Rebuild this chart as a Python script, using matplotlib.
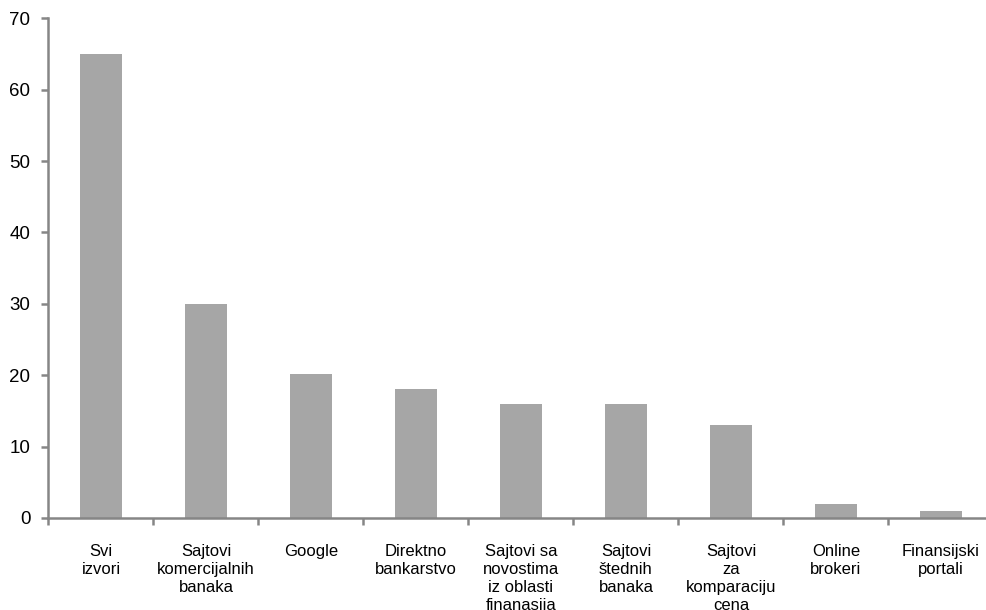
import numpy as np
import matplotlib.pyplot as plt

plt.rcParams['font.family'] = ['Liberation Sans', 'DejaVu Sans']

categories = ["Svi\nizvori", "Sajtovi\nkomercijalnih\nbanaka", "Google",
              "Direktno\nbankarstvo", "Sajtovi sa\nnovostima\niz oblasti\nfinanasija",
              "Sajtovi\nštednih\nbanaka", "Sajtovi\nza\nkomparaciju\ncena",
              "Online\nbrokeri", "Finansijski\nportali"]
values = [65, 30, 20.2, 18, 16, 16, 13, 2, 1]

fig = plt.figure(figsize=(9.87, 6.10), dpi=100)
# axis runs slightly past the right edge, as in the original
ax = fig.add_axes([0.0491, 0.151, 0.9574, 0.819])

x = np.arange(len(categories))
ax.bar(x, values, width=0.40, color='#a6a6a6')

ax.set_xlim(-0.5, len(categories) - 0.5)
ax.set_ylim(0, 70)
ax.set_yticks(range(0, 71, 10))

# boundary ticks (no labels), category labels on minor ticks
ax.set_xticks(np.arange(-0.5, len(categories), 1.0))
ax.set_xticklabels([])
ax.set_xticks(x, minor=True)
ax.set_xticklabels(categories, minor=True, fontsize=12, linespacing=1.25, va='top')

spine_col = '#868686'
for s in ['top', 'right']:
    ax.spines[s].set_visible(False)
for s in ['left', 'bottom']:
    ax.spines[s].set_color(spine_col)
    ax.spines[s].set_linewidth(1.8)

ax.tick_params(axis='x', which='major', length=5, width=1.8, color=spine_col, direction='out')
ax.tick_params(axis='x', which='minor', length=0, pad=19)
ax.tick_params(axis='y', length=5, width=1.8, color=spine_col, labelsize=13.5, pad=8)

fig.savefig('out.png', dpi=100)
